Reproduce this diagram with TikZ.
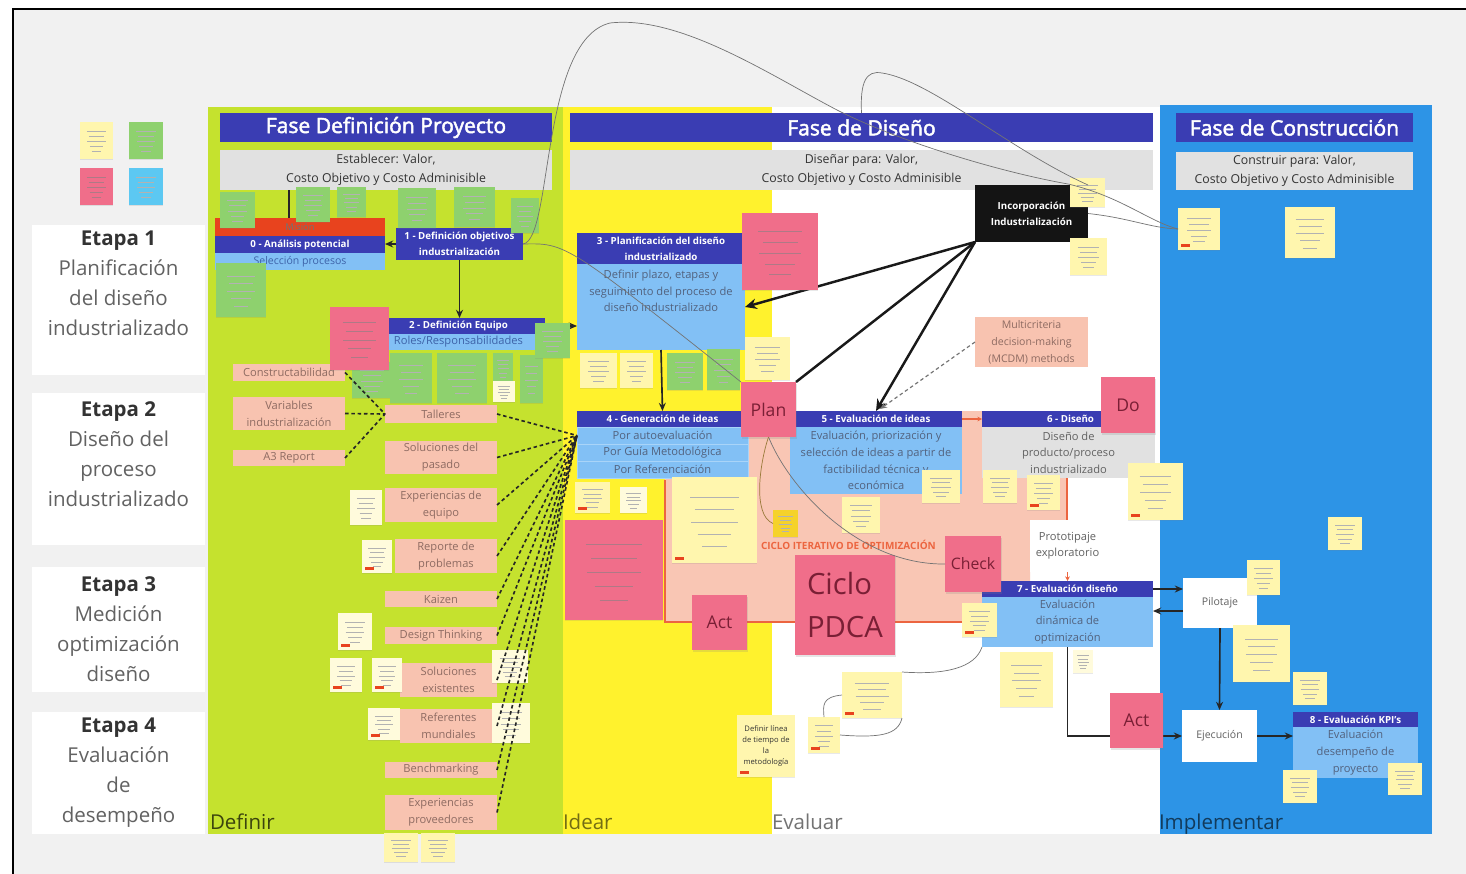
\documentclass[tikz,border=0pt]{standalone}
\usepackage{fontspec}
\setmainfont{Open Sans}
\newfontfamily\phasefont[FakeBold=2.2]{Open Sans}
\usetikzlibrary{arrows.meta,calc,shadows}

% palette
\definecolor{canvas}{HTML}{F1F1F1}
\definecolor{lime}{HTML}{C5E22E}
\definecolor{ideayel}{HTML}{FFF22D}
\definecolor{buildblue}{HTML}{2D94E6}
\definecolor{navy}{HTML}{3A3DB3}
\definecolor{skyblue}{HTML}{82C0F5}
\definecolor{rowline}{HTML}{A9D4F8}
\definecolor{panelgray}{HTML}{E1E1E1}
\definecolor{salmon}{HTML}{F8C3B0}
\definecolor{cyclepink}{HTML}{F9C6B4}
\definecolor{notepink}{HTML}{F06E8A}
\definecolor{noteyel}{HTML}{FFF6AE}
\definecolor{notewhite}{HTML}{FFFBDC}
\definecolor{notegreen}{HTML}{8ED16E}
\definecolor{notecyan}{HTML}{5CC8F2}
\definecolor{notegold}{HTML}{F5D22A}
\definecolor{redbar}{HTML}{E8431E}
\definecolor{cycleline}{HTML}{EC6540}
\definecolor{inktext}{HTML}{52627E}
\definecolor{rolesblue}{HTML}{3D62A8}
\definecolor{saltext}{HTML}{8E6B62}
\definecolor{greytext}{HTML}{626262}
\definecolor{darktext}{HTML}{333333}
\definecolor{pinkink}{HTML}{7A1F35}
\definecolor{brownlink}{HTML}{9A7A3A}

\newcommand\fsz[2]{\fontsize{#1}{#2}\selectfont}
% rectangle node from its corners: name, style, x1, y1, x2, y2, text
\newcommand\mkbox[7]{\node[#2, minimum width={(#5-#3)*0.03cm}, minimum height={(#6-#4)*0.03cm}] (#1) at ({(#3+#5)/2},{(#4+#6)/2}) {#7};}
% sticky note with scribbled lines: [ink], name, fill, x1, y1, x2, y2
\newcommand\stickynote[7][black!30]{%
  \mkbox{#2}{sticky=#3}{#4}{#5}{#6}{#7}{}%
  \foreach \kk/\rr in {1/0.9,2/0.72,3/0.86,4/0.62,5/0.45}{%
    \draw[#1, line width=0.32pt] ({(#4+#6)/2-0.32*\rr*(#6-#4)},{#5+(0.1+0.14*\kk)*(#7-#5)}) -- ++({0.64*\rr*(#6-#4)},0);
  }%
}
\newcommand\redtag[1]{\fill[redbar] ($(#1.south west)+(3,-6)$) rectangle ++(9,3);}

\tikzset{
  every node/.style={inner sep=0pt, outer sep=0pt},
  phase/.style={fill=navy, text=white, font=\phasefont\fsz{18}{20}},
  goal/.style={fill=panelgray, text=darktext, font=\fsz{10.5}{16}, align=center},
  hdr/.style={fill=navy, text=white, font=\bfseries\fsz{8.3}{13.6}, align=center},
  body/.style={fill=skyblue, text=inktext, font=\fsz{9.5}{14.2}, align=center},
  sal/.style={fill=salmon, text=saltext, font=\fsz{9.5}{14.5}, align=center},
  whitebox/.style={fill=white, text=greytext, font=\fsz{9}{14}, align=center},
  blackbox/.style={fill=black!92, text=white, font=\bfseries\fsz{8.3}{13.6}, align=center},
  stagebox/.style={fill=white},
  stagetext/.style={text=greytext, font=\fsz{17.5}{25.5}, align=center},
  sticky/.style={fill=#1, drop shadow={shadow xshift=0.4pt, shadow yshift=-1.2pt, opacity=0.18}},
  pdca/.style={fill=notepink, text=pinkink, drop shadow={shadow xshift=0.5pt, shadow yshift=-1.5pt, opacity=0.2}},
  lane/.style={anchor=base west, font=\fsz{17.5}{20}},
  flow/.style={line width=1.4pt, draw=black!85, -{Stealth[length=7pt,width=6pt]}},
  heavy/.style={line width=2.1pt, draw=black!90, -{Stealth[length=10pt,width=9pt]}},
  heavyline/.style={line width=2.1pt, draw=black!90},
  feed/.style={line width=1.4pt, draw=black!85, dash pattern=on 3pt off 2.4pt},
  hint/.style={line width=1pt, draw=black!55, dash pattern=on 3pt off 2.4pt, -{Stealth[length=6pt,width=5pt]}},
  link/.style={line width=0.6pt, draw=black!55},
  redflow/.style={line width=0.9pt, draw=cycleline, -{Stealth[length=4pt,width=4pt]}},
}

\begin{document}
\begin{tikzpicture}[x=0.03cm,y=-0.03cm]
\useasboundingbox (0,0) rectangle (1466,874);
\fill[white] (0,0) rectangle (1466,874);
\fill[canvas] (13,9) rectangle (1466,874);
\draw[line width=1.8pt] (13,874) -- (13,9) -- (1466,9);

% phase lanes
\fill[lime] (208,107) rectangle (563,834);
\fill[ideayel] (563,107) rectangle (772,834);
\fill[white] (772,107) rectangle (1160,834);
\fill[buildblue] (1160,105) rectangle (1432,834);

% iterative optimisation area
\fill[cyclepink] (748,411) -- (985,411) -- (985,478) -- (1067,478) -- (1067,530) -- (1030,530) -- (1030,581) -- (1000,581) -- (1000,622) -- (665,622) -- (665,478) -- (748,478) -- cycle;
\draw[cycleline, line width=1.2pt] (665,480) -- (665,622) -- (985,622);
\draw[cycleline, line width=1.2pt] (1067,478) -- (1067,527);

% lane names
\node[lane, text=black!70!lime] (lDef) at (210,829) {Definir};
\node[lane, text=black!55!ideayel] (lIde) at (563,829) {Idear};
\node[lane, text=black!55] (lEva) at (772,829) {Evaluar};
\node[lane, text=black!60!buildblue] (lImp) at (1159,829) {Implementar};

% legend
\stickynote{legY}{noteyel}{80}{122}{113}{159}
\stickynote{legG}{notegreen}{129}{122}{163}{159}
\stickynote[pinkink!60]{legP}{notepink}{80}{168}{113}{205}
\stickynote{legC}{notecyan}{129}{168}{163}{205}

% stages
\mkbox{st1}{stagebox}{32}{225}{205}{375}{}
\mkbox{st2}{stagebox}{32}{393}{205}{545}{}
\mkbox{st3}{stagebox}{32}{567}{205}{692}{}
\mkbox{st4}{stagebox}{32}{712}{205}{834}{}
\node[stagetext, anchor=north] (st1t) at (118.5,231) {{\bfseries\color{darktext}Etapa 1}\\Planificación\\del diseño\\industrializado};
\node[stagetext, anchor=north] (st2t) at (118.5,402) {{\bfseries\color{darktext}Etapa 2}\\Diseño del\\proceso\\industrializado};
\node[stagetext, anchor=north] (st3t) at (118.5,577) {{\bfseries\color{darktext}Etapa 3}\\Medición\\optimización\\diseño};
\node[stagetext, anchor=north] (st4t) at (118.5,718) {{\bfseries\color{darktext}Etapa 4}\\Evaluación\\de\\desempeño};

% phase titles and goals
\mkbox{ph1}{phase}{220}{113}{552}{142}{Fase Definición Proyecto}
\mkbox{ph2}{phase}{570}{113}{1153}{142}{Fase de Diseño}
\mkbox{ph3}{phase}{1176}{113}{1413}{142}{Fase de Construcción}
\mkbox{go1}{goal}{220}{150}{552}{190}{Establecer: Valor,\\Costo Objetivo y Costo Adminisible}
\mkbox{go2}{goal}{570}{150}{1153}{190}{Diseñar para: Valor,\\Costo Objetivo y Costo Adminisible}
\mkbox{go3}{goal}{1176}{152}{1413}{190}{Construir para: Valor,\\Costo Objetivo y Costo Adminisible}

% definition phase steps
\mkbox{mis}{fill=redbar, text=black!55, font=\fsz{8}{10}}{215}{218}{385}{236}{Misión}
\mkbox{n0h}{hdr}{215}{236}{385}{253}{0 - Análisis potencial}
\mkbox{n0b}{body, text=rolesblue, font=\fsz{9}{12}}{215}{253}{385}{270}{Selección procesos}
\mkbox{n1}{hdr}{396}{228}{523}{260}{1 - Definición objetivos\\industrialización}
\mkbox{n2h}{hdr}{372}{318}{545}{334}{2 - Definición Equipo}
\mkbox{n2b}{body, text=rolesblue}{372}{334}{545}{350}{Roles/Responsabilidades}

% design phase steps
\mkbox{n3h}{hdr}{577}{233}{745}{264}{3 - Planificación del diseño\\industrializado}
\mkbox{n3b}{body}{577}{264}{745}{350}{}
\node[body, fill=none, anchor=north] (n3t) at ($(n3b.north)+(0,6)$) {Definir plazo, etapas y\\seguimiento del proceso de\\diseño industrializado};
\mkbox{n4h}{hdr}{577}{411}{748}{427}{4 - Generación de ideas}
\mkbox{n4a}{body, draw=rowline, line width=0.6pt}{577}{427}{748}{444}{Por autoevaluación}
\mkbox{n4b}{body, draw=rowline, line width=0.6pt}{577}{444}{748}{461}{Por Guía Metodológica}
\mkbox{n4c}{body, draw=rowline, line width=0.6pt}{577}{461}{748}{478}{Por Referenciación}
\mkbox{n5h}{hdr}{790}{411}{962}{427}{5 - Evaluación de ideas}
\mkbox{n5b}{body}{790}{427}{962}{494}{Evaluación, priorización y\\selección de ideas a partir de\\factibilidad técnica y\\económica}
\mkbox{n6h}{hdr}{982}{411}{1102}{427}{}
\node[hdr, fill=none, anchor=east] (n6t) at ($(n6h.east)+(-8,0)$) {6 - Diseño};
\mkbox{n6b}{body, fill=panelgray, text=greytext}{982}{427}{1155}{478}{Diseño de\\producto/proceso\\industrializado}
\mkbox{inc}{blackbox}{975}{185}{1088}{242}{Incorporación\\Industrialización}
\mkbox{mcdm}{sal, font=\fsz{9}{14.5}}{975}{317}{1088}{367}{Multicriteria\\decision-making\\(MCDM) methods}
\mkbox{proto}{whitebox, font=\fsz{9.5}{14}}{1030}{520}{1105}{572}{Prototipaje\\exploratorio}
\mkbox{n7h}{hdr}{982}{581}{1153}{597}{7 - Evaluación diseño}
\mkbox{n7b}{body}{982}{597}{1153}{647}{Evaluación\\dinámica de\\optimización}

% construction phase steps
\mkbox{pil}{whitebox}{1183}{578}{1257}{628}{Pilotaje}
\mkbox{eje}{whitebox}{1182}{710}{1257}{762}{Ejecución}
\mkbox{n8h}{hdr}{1293}{712}{1418}{727}{8 - Evaluación KPI's}
\mkbox{n8b}{body}{1293}{727}{1418}{778}{Evaluación\\desempeño de\\proyecto}

% idea sources
\mkbox{scon}{sal}{233}{364}{345}{381}{Constructabilidad}
\mkbox{svar}{sal}{233}{397}{345}{430}{Variables\\industrialización}
\mkbox{sa3}{sal}{233}{450}{345}{466}{A3 Report}
\mkbox{stal}{sal}{385}{405}{497}{423}{Talleres}
\mkbox{ssol}{sal}{385}{441}{497}{474}{Soluciones del\\pasado}
\mkbox{sexp}{sal}{385}{488}{497}{522}{Experiencias de\\equipo}
\mkbox{srep}{sal}{395}{539}{497}{573}{Reporte de\\problemas}
\mkbox{skai}{sal}{385}{591}{497}{607}{Kaizen}
\mkbox{sdt}{sal}{385}{627}{497}{644}{Design Thinking}
\mkbox{ssex}{sal}{400}{663}{497}{697}{Soluciones\\existentes}
\mkbox{sref}{sal}{400}{709}{497}{743}{Referentes\\mundiales}
\mkbox{sben}{sal}{385}{762}{497}{778}{Benchmarking}
\mkbox{sepr}{sal}{385}{795}{497}{830}{Experiencias\\proveedores}

% flow arrows (under the notes)
\coordinate (misin) at ($(mis.north west)+(74,0)$);
\draw[line width=1.2pt, black!85] (misin |- go1.south) -- (misin);
\draw[flow] (n1.west) -- (n1.west -| n0h.east);
\draw[flow] (n1.south) -- (n1.south |- n2h.north);
\draw[flow] (n2h.east) -- (n2h.east -| n3b.west);
\draw[flow] (n3b.south) -- (n4h.north);
\draw[heavy] (inc.south west) -- (n3b.east);
\draw[heavy] (inc.south west) -- (n5h.north);
\draw[hint] (mcdm.west) -- ($(n5h.north)+(4,-2)$);
\draw[redflow] (n5h.east) -- (n6h.west);
\draw[redflow] (proto.south) -- (proto.south |- n7h.north);
\draw[flow] (n7h.east) -- (n7h.east -| pil.west);
\coordinate (pb) at ($(pil.west)+(0,8)$);
\draw[flow] (pb) -- (pb -| n7b.east);
\draw[flow] (pil.south) -- (eje.north);
\draw[flow] (eje.east) -- (eje.east -| n8b.west);
\draw[flow] (n7b.south) |- (eje.west);

% notes: definition phase
\stickynote{gA}{notegreen}{220}{192}{255}{228}
\stickynote{gB}{notegreen}{296}{187}{330}{222}
\stickynote{gC}{notegreen}{337}{187}{366}{217}
\stickynote{gD}{notegreen}{398}{188}{436}{228}
\stickynote{gE}{notegreen}{454}{187}{495}{227}
\stickynote{gF}{notegreen}{511}{198}{539}{233}
\stickynote{gG}{notegreen}{216}{263}{266}{317}
\stickynote{gH}{notegreen}{352}{362}{392}{398}
\stickynote{gI}{notegreen}{390}{353}{432}{403}
\stickynote{gJ}{notegreen}{437}{353}{487}{403}
\stickynote{gK}{notegreen}{493}{353}{513}{383}
\stickynote{yK}{notewhite}{493}{381}{515}{402}
\stickynote{gL}{notegreen}{520}{355}{543}{403}
\stickynote{gM}{notegreen}{535}{323}{570}{358}
\stickynote[pinkink!60]{pA}{notepink}{330}{307}{389}{370}
\stickynote{yA}{notewhite}{350}{490}{382}{525}
\stickynote{yB}{notewhite}{362}{540}{392}{573}
\stickynote{yC}{notewhite}{338}{613}{372}{650}
\stickynote{yD}{notewhite}{330}{658}{362}{692}
\stickynote{yE}{notewhite}{372}{658}{402}{692}
\stickynote{yF}{notewhite}{492}{650}{528}{683}
\stickynote{yG}{notewhite}{368}{708}{400}{740}
\stickynote{yH}{notewhite}{492}{703}{530}{743}
\stickynote{yI}{noteyel}{384}{833}{418}{862}
\stickynote{yJ}{noteyel}{421}{833}{455}{862}
\redtag{yB}\redtag{yC}\redtag{yD}\redtag{yE}\redtag{yG}

% notes: design phase
\stickynote{yL}{noteyel}{580}{353}{617}{388}
\stickynote{yM}{noteyel}{620}{353}{653}{388}
\stickynote{gN}{notegreen}{667}{353}{703}{390}
\stickynote{gO}{notegreen}{707}{349}{740}{390}
\stickynote{yN}{noteyel}{745}{337}{790}{380}
\stickynote[pinkink!60]{pB}{notepink}{742}{213}{818}{290}
\stickynote{yO}{noteyel}{575}{482}{610}{513}
\stickynote{yP}{notewhite}{620}{487}{647}{513}
\stickynote{yQ}{noteyel}{672}{477}{757}{563}
\stickynote{gold}{notegold}{773}{510}{798}{537}
\stickynote{yR}{noteyel}{842}{497}{880}{533}
\stickynote{yS}{noteyel}{922}{470}{960}{503}
\stickynote[pinkink!60]{pC}{notepink}{565}{520}{663}{620}
\stickynote{yT}{noteyel}{962}{603}{997}{637}
\stickynote{sk1}{noteyel}{842}{672}{902}{718}
\stickynote{sk2}{noteyel}{808}{717}{840}{753}
\mkbox{tl}{sticky=noteyel, text=darktext, font=\fsz{6.5}{9.6}, align=center}{737}{715}{795}{777}{Definir línea\\de tiempo de\\la\\metodología}
\stickynote{yU}{noteyel}{983}{470}{1017}{503}
\stickynote{yV}{noteyel}{1027}{475}{1060}{510}
\stickynote{yW}{noteyel}{1128}{463}{1183}{520}
\stickynote{yX}{noteyel}{1070}{178}{1105}{207}
\stickynote{yY}{noteyel}{1070}{238}{1107}{275}
\stickynote{ya6}{noteyel}{1000}{652}{1053}{707}
\stickynote{ya7}{notewhite}{1073}{650}{1093}{673}
\redtag{yO}\redtag{yQ}\redtag{tl}\redtag{sk1}\redtag{sk2}\redtag{yT}\redtag{yW}\redtag{yV}

% notes: construction phase
\stickynote{cs1}{noteyel}{1178}{208}{1220}{250}
\stickynote{cs2}{noteyel}{1285}{207}{1335}{258}
\stickynote{yZ}{noteyel}{1328}{517}{1362}{550}
\stickynote{ya1}{noteyel}{1247}{560}{1280}{595}
\stickynote{ya2}{noteyel}{1233}{625}{1290}{682}
\stickynote{ya3}{noteyel}{1293}{672}{1327}{705}
\stickynote{ya4}{noteyel}{1283}{770}{1317}{803}
\stickynote{ya5}{noteyel}{1388}{763}{1422}{795}
\redtag{cs1}

% cycle label and PDCA notes
\node[anchor=west, text=cycleline, font=\bfseries\fsz{8.5}{10}] (cit) at (761,545) {CICLO ITERATIVO DE OPTIMIZACIÓN};
\mkbox{plan}{pdca, font=\fsz{15}{18}}{741}{382}{796}{437}{Plan}
\mkbox{do}{pdca, font=\fsz{15}{18}}{1101}{377}{1155}{433}{Do}
\mkbox{check}{pdca, font=\fsz{13.5}{16}}{945}{536}{1001}{592}{Check}
\mkbox{actA}{pdca, font=\fsz{15}{18}}{692}{595}{747}{650}{Act}
\mkbox{actB}{pdca, font=\fsz{15}{18}}{1110}{693}{1163}{748}{Act}
\mkbox{ciclo}{pdca, font=\fsz{25}{36}, align=left}{795}{555}{895}{655}{Ciclo\\PDCA}
\draw[heavyline] (inc.south west) -- (plan.north east);

% idea sources feeding step 4
\foreach \s in {scon,svar,sa3} \draw[feed] (\s.east) -- (stal.west);
\foreach \s in {stal,ssol,sexp,srep,skai,sdt,ssex,sref,sben,sepr} \draw[feed] (\s.east) -- (n4a.west);

% thin links
\draw[link] (n1.east) .. controls (566,243) .. (plan.north west);
\draw[link] (n1.east) .. controls (553,240) and (540,40) .. (610,23) .. controls (680,15) and (770,75) .. (837,110) .. controls (900,142) and (1000,172) .. (1068,184) .. controls (1120,196) and (1150,222) .. (cs1.west);
\draw[link] (ph2.north) .. controls (860,82) and (866,70) .. (882,73) .. controls (930,80) and (1010,150) .. (inc.north east);
\draw[link] (inc.east) .. controls (1130,218) and (1150,228) .. (cs1.west);
\draw[link] (plan.south) .. controls (790,490) and (860,565) .. (check.west);
\draw[link, draw=brownlink] (plan.south) .. controls (760,462) and (752,515) .. (gold.west);
\draw[link] (n7b.south west) .. controls (975,668) and (945,675) .. (sk1.north east);
\draw[link] (sk1.west) .. controls (822,697) and (823,705) .. (sk2.north);
\draw[link] (sk2.east) .. controls (880,738) and (898,735) .. (sk1.south east);
\end{tikzpicture}
\end{document}
